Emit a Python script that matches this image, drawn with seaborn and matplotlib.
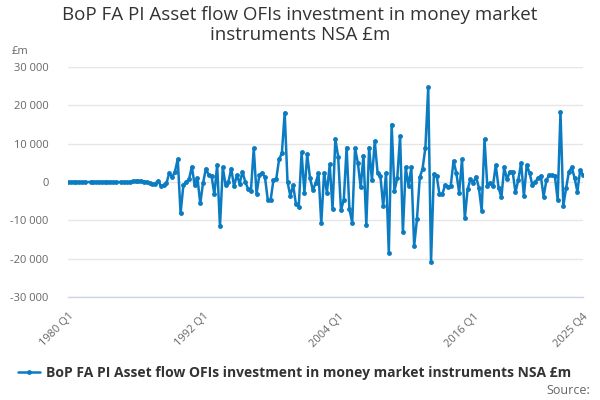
import numpy as np
import pandas as pd
import matplotlib
matplotlib.use("Agg")
import matplotlib.pyplot as plt
import seaborn as sns
from matplotlib.ticker import FuncFormatter, FixedLocator

# Données (trimestrielles, 1980 Q1 - 2025 Q4)
quarters = [f"{y} Q{q}" for y in range(1980, 2026) for q in range(1, 5)]

values_1980_1987 = [0, 0, 0, 0, 0, 0, 0, np.nan, 0, 0, 0, 0, 0, 0, 0, 0,
                    0, 0, np.nan, 0, 0, 0, 0, 200, 300, 200, 300, 100,
                    0, -300, -500, -400, 300]
values_1988_1999 = [-1000, -900, -300, 2400, 1200, 2700, 6000, -8200, -800, 0,
                    700, 4000, -800, 1000, -5600, -200, 3500, 1800, 1600, -3200,
                    4400, -11600, 3800, -800, 0, 3500, -1100, 1800, -400, 2700,
                    0, -1800, -2300, 8800, -3100, 1800, 2400, 1200, -4700, -4700,
                    500, 800, 5900, 7500, 18100, 0, -3600, -800, -5800, -6400,
                    7700, -2800, 7200]
values_2001_2012 = [1000, -2100, -300, 2300, -10800, 2400, -2800, 4600, -7100,
                    11200, 6600, -7300, -4700, 9000, -7100, -10600, 8800, 5000,
                    -1400, 6900, -11200, 9000, 500, 10700, 2400, 1600, -6300,
                    2300, -18500, 15000, -2300, 1000, 12000, -13100, 3800, -1000,
                    3800, -16700, -9700, 1200, 3500, 9000, 24700, -20900]
values_2012_2025 = [2000, 1600, -3200, -3200, -800, -1200, -1000, 5500, 2300,
                    -2800, 5900, -9500, -1900, 700, -200, 1400, -1500, -7500,
                    11100, -1000, -200, -1000, 4400, -1500, -4000, 3800, 700,
                    2700, 2700, -2700, 500, 5000, -3700, 4400, 2400, -800, 0,
                    1000, 1600, -3800, 500, 1800, 1800, 1600, -4700, 18300,
                    -6200, -1600, 2700, 3800, 1100, -2500, 3100, 1800]

values = values_1980_1987 + values_1988_1999 + values_2001_2012 + values_2012_2025
series_name = "BoP FA PI Asset flow OFIs investment in money market instruments NSA £m"
title = "BoP FA PI Asset flow OFIs investment in money market instruments NSA £m"

n = min(len(quarters), len(values))
df = pd.DataFrame({"idx": np.arange(n), "quarter": quarters[:n], "value": values[:n]})

sns.set_style("white")
plt.rcParams["font.family"] = ["Open Sans", "DejaVu Sans"]

fig = plt.figure(figsize=(6, 4), dpi=100)
ax = fig.add_axes([68 / 600, 103 / 400, 515 / 600, 230 / 400])

blue = "#0b7bc2"
sns.lineplot(data=df, x="idx", y="value", ax=ax, color=blue, linewidth=1.8,
             marker="o", markersize=3.5, markeredgewidth=0, estimator=None,
             sort=False, label=series_name)

ax.set_xlim(0, len(quarters) - 1)
ax.set_ylim(-30000, 30000)
ax.set_yticks(np.arange(-30000, 30001, 10000))
ax.yaxis.set_major_formatter(FuncFormatter(lambda v, p: f"{int(v):,}".replace(",", " ")))
ax.grid(axis="y", color="#e6e6e6", linewidth=1)
ax.grid(axis="x", visible=False)
for s in ["top", "right", "left"]:
    ax.spines[s].set_visible(False)
ax.spines["bottom"].set_color("#ccd6eb")
ax.spines["bottom"].set_linewidth(1)

# ticks tous les 3 ans, étiquettes tous les 12 ans + dernier trimestre
last = len(quarters) - 1
tick_pos = list(range(0, 169, 12)) + [last]
label_pos = [0, 48, 96, 144, last]
ax.xaxis.set_major_locator(FixedLocator(tick_pos))
ax.set_xticklabels([quarters[i] if i in label_pos else "" for i in tick_pos],
                   rotation=45, ha="right", rotation_mode="anchor")
ax.tick_params(axis="x", length=8, color="#ccd6eb", labelsize=8, labelcolor="#666666", pad=2)
ax.tick_params(axis="y", length=0, labelsize=8, labelcolor="#666666", pad=14)
ax.set_xlabel("")
ax.set_ylabel("")

fig.text(12 / 600, 1 - 52 / 400, "£m", fontsize=8, color="#666666", va="center")
fig.suptitle(title.replace("money market ", "money market\n"), x=0.5, y=1 - 6 / 400,
             fontsize=13.5, color="#333333", va="top", linespacing=1.15)

leg = ax.legend(loc="center left", bbox_to_anchor=(18 / 600, 1 - 373 / 400),
                bbox_transform=fig.transFigure, frameon=False, handlelength=1.6,
                handletextpad=0.4, borderaxespad=0, borderpad=0)
for t in leg.get_texts():
    t.set_fontweight("bold")
    t.set_color("#333333")
    t.set_fontsize(10)

fig.text(590 / 600, 1 - 390 / 400, "Source:", fontsize=9, color="#666666",
         ha="right", va="center")

fig.savefig("out.png", dpi=100)
plt.close(fig)
